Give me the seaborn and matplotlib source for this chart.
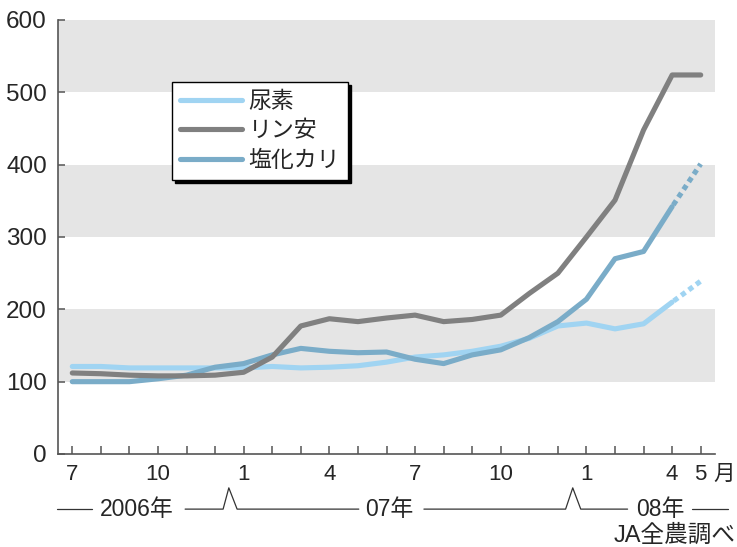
import matplotlib
matplotlib.use("Agg")
import matplotlib.pyplot as plt
from matplotlib.lines import Line2D
import seaborn as sns
import pandas as pd

# ---- data (monthly, Jul 2006 .. May 2008) ----
months = list(range(23))
month_labels = ["7", "", "", "10", "", "", "1", "", "", "4", "", "", "7", "", "", "10", "", "", "1", "", "", "4", "5"]
urea = [121, 121, 119, 119, 119, 119, 119, 121, 119, 120, 122, 127, 134, 137, 142, 149, 160, 177, 181, 173, 180, 210, 239]
phosphate = [112, 111, 109, 108, 108, 109, 113, 134, 177, 187, 183, 188, 192, 183, 186, 192, 222, 250, 300, 351, 448, 524, 524]
potash = [100, 100, 100, 104, 109, 120, 125, 137, 146, 142, 140, 141, 131, 125, 137, 144, 161, 183, 214, 270, 280, 342, 401]
names = ["尿素", "リン安", "塩化カリ"]
colors = ["#a0d4f2", "#808080", "#7aacc8"]
year_labels = ["2006年", "07年", "08年"]
source = "JA全農調べ"

sns.set_style("white")
plt.rcParams["font.family"] = ["Liberation Sans", "Noto Sans CJK JP"]

fig = plt.figure(figsize=(7.37, 5.47), dpi=100)
ax = fig.add_axes([58 / 737, 1 - 454 / 547, (715 - 58) / 737, (454 - 20) / 547])

for lo in (100, 300, 500):
    ax.axhspan(lo, lo + 100, color="#e5e5e5", zorder=0, lw=0)

lw = 3.7
# solid parts
df_u = pd.DataFrame({"m": months[:22], "v": urea[:22]})
df_p = pd.DataFrame({"m": months, "v": phosphate})
df_k = pd.DataFrame({"m": months[:22], "v": potash[:22]})
sns.lineplot(data=df_u, x="m", y="v", ax=ax, color=colors[0], lw=lw, solid_capstyle="round", zorder=3)
sns.lineplot(data=df_k, x="m", y="v", ax=ax, color=colors[2], lw=lw, solid_capstyle="round", zorder=4)
sns.lineplot(data=df_p, x="m", y="v", ax=ax, color=colors[1], lw=lw, solid_capstyle="round", zorder=5)
# dotted (forecast) parts
df_u2 = pd.DataFrame({"m": months[21:], "v": urea[21:]})
df_k2 = pd.DataFrame({"m": months[21:], "v": potash[21:]})
sns.lineplot(data=df_u2, x="m", y="v", ax=ax, color=colors[0], lw=lw, linestyle=(1.4, (1, 0.8)), zorder=3)
sns.lineplot(data=df_k2, x="m", y="v", ax=ax, color=colors[2], lw=lw, linestyle=(1.4, (1, 0.8)), zorder=4)

ax.set_xlim(-0.5, 22.5)
ax.set_ylim(0, 600)
ax.set_xlabel("")
ax.set_ylabel("")
ax.set_yticks([0, 100, 200, 300, 400, 500, 600])
ax.set_xticks(months)
ax.set_xticklabels(month_labels)
spine_c = "#555555"
for s in ("top", "right"):
    ax.spines[s].set_visible(False)
for s in ("left", "bottom"):
    ax.spines[s].set_color(spine_c)
    ax.spines[s].set_linewidth(1.2)
ax.tick_params(axis="y", direction="in", length=5, width=1.1, color=spine_c, pad=8, labelsize=17.5, left=True)
ax.tick_params(axis="x", direction="in", length=6, width=1.1, color=spine_c, pad=7, labelsize=16, bottom=True)

# 月 unit
fig.text(735 / 737, 1 - 474 / 547, "月", ha="right", va="center", fontsize=15.5)

# year row
tr = ax.get_xaxis_transform()
yr = -0.127
pk = -0.078
kw = dict(color="#333333", lw=0.9, transform=tr, clip_on=False)
ax.plot([-0.52, 0.70], [yr, yr], **kw)
ax.plot([3.95, 5.28, 5.48, 5.77, 10.03], [yr, yr, pk, yr, yr], **kw)
ax.plot([12.31, 17.27, 17.52, 17.80, 19.44], [yr, yr, pk, yr, yr], **kw)
ax.plot([21.71, 22.94], [yr, yr], **kw)
for xc, t in zip([2.24, 11.08, 20.6], year_labels):
    ax.text(xc, yr, t, transform=tr, ha="center", va="center", fontsize=16.5, clip_on=False)
fig.text(736 / 737, 1 - 536 / 547, source, ha="right", va="center", fontsize=17)

# legend
handles = [Line2D([0], [0], color=c, lw=lw, solid_capstyle="round") for c in colors]
leg = ax.legend(handles, names, loc="upper left", bbox_to_anchor=(0.1735, 0.857), borderaxespad=0,
                fontsize=16.5, frameon=True, fancybox=False, shadow={"color": "black", "alpha": 1},
                handlelength=2.7, handletextpad=0.3, labelspacing=0.28, borderpad=0.35)
leg.get_frame().set_edgecolor("black")
leg.get_frame().set_linewidth(1.0)
leg.set_zorder(10)

fig.savefig("out.png", dpi=100)
